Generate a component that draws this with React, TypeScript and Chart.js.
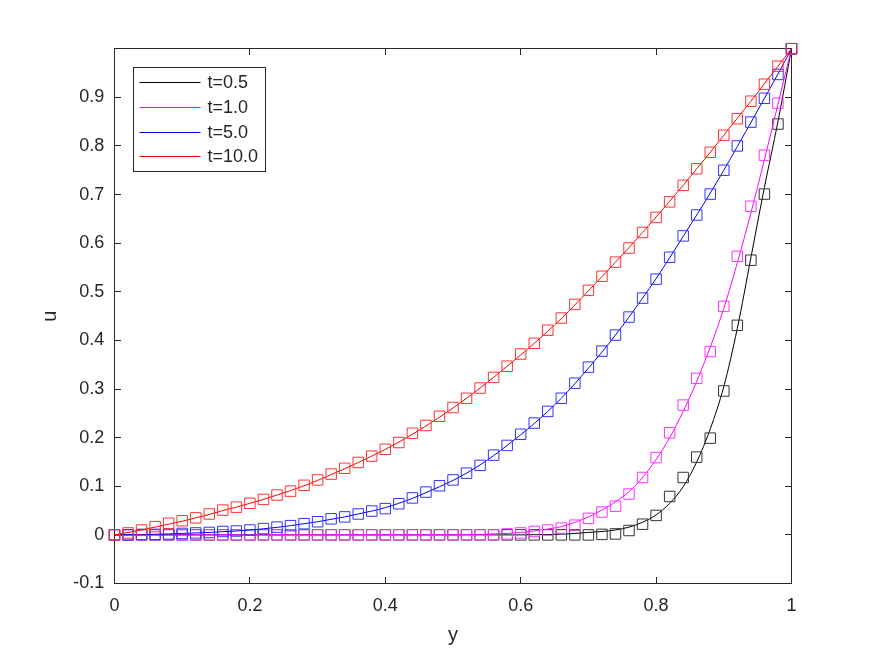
import React, { useEffect, useRef } from "react";
import { Chart, registerables } from "chart.js";

Chart.register(...registerables);

// ---- data ----
const yGrid = [0, 0.02, 0.04, 0.06, 0.08, 0.1, 0.12, 0.14, 0.16, 0.18, 0.2, 0.22, 0.24, 0.26, 0.28, 0.3, 0.32, 0.34, 0.36, 0.38, 0.4, 0.42, 0.44, 0.46, 0.48, 0.5, 0.52, 0.54, 0.56, 0.58, 0.6, 0.62, 0.64, 0.66, 0.68, 0.7, 0.72, 0.74, 0.76, 0.78, 0.8, 0.82, 0.84, 0.86, 0.88, 0.9, 0.92, 0.94, 0.96, 0.98, 1.0];

const seriesLabels = ["t=0.5", "t=1.0", "t=5.0", "t=10.0"];

// solid curves
const lineT05 = [0, 0, 0, 0, 0, 0, 0, 0, 0, 0, 0, 0, 0, 0, 0, 0, 0, 0, 0, 0, 0, 0, 0, 0, 0, 0, 0, 0, 0, 0, 0, 0.0003, 0.0007, 0.0015, 0.003, 0.005, 0.007, 0.01, 0.016, 0.026, 0.041, 0.065, 0.099, 0.15, 0.218, 0.305, 0.425, 0.57, 0.715, 0.85, 1.0];
const lineT1 = [0, 0, 0, 0, 0, 0, 0, 0, 0, 0, 0, 0, 0, 0, 0, 0, 0, 0, 0, 0, 0, 0, 0, 0, 0, 0, 0.0005, 0.001, 0.002, 0.003, 0.005, 0.008, 0.012, 0.017, 0.026, 0.037, 0.051, 0.068, 0.089, 0.118, 0.155, 0.2, 0.254, 0.316, 0.386, 0.466, 0.56, 0.662, 0.772, 0.886, 1.0];
const lineT5 = [0, 0.0003, 0.0007, 0.0012, 0.002, 0.003, 0.004, 0.005, 0.0065, 0.008, 0.01, 0.0125, 0.0155, 0.019, 0.023, 0.027, 0.032, 0.037, 0.043, 0.049, 0.056, 0.065, 0.075, 0.087, 0.099, 0.112, 0.127, 0.144, 0.163, 0.184, 0.206, 0.229, 0.254, 0.281, 0.311, 0.343, 0.376, 0.411, 0.448, 0.487, 0.527, 0.57, 0.614, 0.658, 0.703, 0.75, 0.799, 0.848, 0.898, 0.948, 1.0];
const lineT10 = [0, 0.005, 0.01, 0.016, 0.022, 0.028, 0.035, 0.042, 0.05, 0.057, 0.065, 0.073, 0.082, 0.091, 0.101, 0.112, 0.124, 0.136, 0.149, 0.162, 0.176, 0.191, 0.207, 0.224, 0.242, 0.261, 0.281, 0.302, 0.324, 0.347, 0.37, 0.394, 0.419, 0.445, 0.473, 0.502, 0.531, 0.561, 0.591, 0.622, 0.654, 0.686, 0.719, 0.753, 0.787, 0.822, 0.857, 0.892, 0.928, 0.964, 1.0];

// square markers
const markT05 = [0, 0, 0, 0, 0, 0, 0, 0, 0, 0, 0, 0, 0, 0, 0, 0, 0, 0, 0, 0, 0, 0, 0, 0, 0, 0, 0, 0, 0, 0, 0, 0, 0, 0, 0, 0, 0.001, 0.002, 0.009, 0.022, 0.04, 0.079, 0.118, 0.16, 0.199, 0.296, 0.431, 0.565, 0.701, 0.845, 1.0];
const markT1 = [0, 0, 0, 0, 0, 0, 0, 0, 0, 0, 0, 0, 0, 0, 0, 0, 0, 0, 0, 0, 0, 0, 0, 0, 0, 0, 0, 0, 0, 0.002, 0.004, 0.007, 0.01, 0.014, 0.02, 0.034, 0.047, 0.059, 0.084, 0.118, 0.159, 0.21, 0.267, 0.322, 0.377, 0.47, 0.573, 0.676, 0.781, 0.888, 1.0];
const markT5 = [0, 0, 0.001, 0.001, 0.002, 0.003, 0.004, 0.005, 0.007, 0.008, 0.01, 0.013, 0.016, 0.019, 0.023, 0.027, 0.033, 0.037, 0.043, 0.049, 0.054, 0.064, 0.076, 0.088, 0.101, 0.113, 0.127, 0.143, 0.164, 0.184, 0.207, 0.23, 0.254, 0.281, 0.312, 0.345, 0.378, 0.411, 0.448, 0.487, 0.526, 0.571, 0.615, 0.658, 0.701, 0.75, 0.8, 0.849, 0.898, 0.947, 1.0];
const markT10 = [0, 0.004, 0.01, 0.017, 0.024, 0.029, 0.035, 0.043, 0.051, 0.057, 0.065, 0.073, 0.082, 0.09, 0.102, 0.113, 0.125, 0.137, 0.149, 0.162, 0.176, 0.19, 0.209, 0.225, 0.244, 0.262, 0.281, 0.302, 0.324, 0.347, 0.372, 0.394, 0.421, 0.446, 0.474, 0.503, 0.532, 0.561, 0.59, 0.622, 0.653, 0.685, 0.719, 0.753, 0.787, 0.822, 0.856, 0.892, 0.927, 0.964, 1.0];

const xTicks = [0, 0.2, 0.4, 0.6, 0.8, 1];
const yTicks = [-0.1, 0, 0.1, 0.2, 0.3, 0.4, 0.5, 0.6, 0.7, 0.8, 0.9];

const lineColors = ["#000000", "#ff00ff", "#0000ff", "#ff0000"];
const markColors = ["#333333", "#ff33ff", "#3333ff", "#ff3333"];

const FONT = "'Liberation Sans', Arial, Helvetica, sans-serif";
const TXT = "#262626";

const fmt = (v: number) => String(Math.round(v * 10) / 10);
const toPts = (ys: number[]) => ys.map((v, i) => ({ x: yGrid[i], y: v }));

const snap = (v: number) => Math.floor(v) + 0.5;

const axesPlugin = {
  id: "matlabAxes",
  beforeDatasetsDraw(chart: any) {
    const { ctx, chartArea: ca, scales } = chart;
    const xs = scales.x;
    const ys = scales.y;
    const L = snap(ca.left), R = snap(ca.right), T = snap(ca.top), B = snap(ca.bottom);
    const tl = 6.5;
    ctx.save();
    ctx.strokeStyle = TXT;
    ctx.lineWidth = 1;
    ctx.beginPath();
    xs.ticks.forEach((t: any) => {
      const px = snap(xs.getPixelForValue(t.value));
      ctx.moveTo(px, B);
      ctx.lineTo(px, B - tl);
      ctx.moveTo(px, T);
      ctx.lineTo(px, T + tl);
    });
    ys.ticks.forEach((t: any) => {
      const py = snap(ys.getPixelForValue(t.value));
      ctx.moveTo(L, py);
      ctx.lineTo(L + tl, py);
      ctx.moveTo(R, py);
      ctx.lineTo(R - tl, py);
    });
    ctx.stroke();
    ctx.strokeRect(L, T, R - L, B - T);
    ctx.restore();
  },
};

const legendPlugin = {
  id: "matlabLegend",
  afterDatasetsDraw(chart: any) {
    const { ctx, chartArea: ca } = chart;
    const bx = snap(ca.left + 18.8);
    const by = snap(ca.top + 18.3);
    const bw = 132;
    const bh = 104;
    ctx.save();
    ctx.fillStyle = "#ffffff";
    ctx.fillRect(bx, by, bw, bh);
    ctx.strokeStyle = TXT;
    ctx.lineWidth = 1;
    ctx.strokeRect(bx, by, bw, bh);
    ctx.font = `18px ${FONT}`;
    ctx.textBaseline = "middle";
    ctx.textAlign = "left";
    const lines = chart.data.datasets.filter((d: any) => d.isLegend);
    lines.sort((a: any, b: any) => a.legendIndex - b.legendIndex);
    lines.forEach((d: any, i: number) => {
      const ry = by + 15.3 + i * 24.67;
      ctx.strokeStyle = d.borderColor;
      ctx.beginPath();
      ctx.moveTo(bx + 6, snap(ry));
      ctx.lineTo(bx + 67, snap(ry));
      ctx.stroke();
      ctx.fillStyle = TXT;
      ctx.fillText(d.label, bx + 74, ry + 0.5);
    });
    ctx.restore();
  },
};

export default function App() {
  const ref = useRef<HTMLCanvasElement | null>(null);

  useEffect(() => {
    if (!ref.current) return;
    const lineData = [lineT05, lineT1, lineT5, lineT10];
    const markData = [markT05, markT1, markT5, markT10];
    const datasets: any[] = [];
    for (let i = 0; i < 4; i++) {
      datasets.push({
        label: seriesLabels[i],
        data: toPts(lineData[i]),
        borderColor: lineColors[i],
        backgroundColor: lineColors[i],
        borderWidth: 1,
        pointRadius: 0,
        fill: false,
        cubicInterpolationMode: "monotone",
        clip: false,
        order: 7 - 2 * i,
        isLegend: true,
        legendIndex: i,
      });
      datasets.push({
        label: seriesLabels[i] + " (markers)",
        data: toPts(markData[i]),
        showLine: false,
        borderColor: markColors[i],
        backgroundColor: "rgba(0,0,0,0)",
        pointStyle: "rect",
        pointRadius: 7.4,
        pointBorderWidth: 1,
        pointBorderColor: markColors[i],
        pointBackgroundColor: "rgba(0,0,0,0)",
        clip: false,
        order: 6 - 2 * i,
      });
    }

    const chart = new Chart(ref.current, {
      type: "line",
      data: { datasets },
      plugins: [axesPlugin, legendPlugin],
      options: {
        animation: false,
        responsive: false,
        devicePixelRatio: 1,
        events: [],
        layout: { padding: { left: 0, right: 83.5, top: 48.7, bottom: 0 } },
        plugins: { legend: { display: false }, tooltip: { enabled: false } },
        scales: {
          x: {
            type: "linear",
            min: 0,
            max: 1,
            afterBuildTicks: (s: any) => {
              s.ticks = xTicks.map((v) => ({ value: v }));
            },
            afterFit: (s: any) => {
              s.height = 72.5;
            },
            grid: { display: false, drawTicks: false },
            border: { display: false },
            ticks: {
              padding: 11.7,
              color: TXT,
              font: { family: FONT, size: 18 },
              maxRotation: 0,
              autoSkip: false,
              callback: (v: any) => fmt(Number(v)),
            },
            title: {
              display: true,
              text: "y",
              color: TXT,
              font: { family: FONT, size: 20 },
              padding: { top: 0, bottom: 9 },
            },
          },
          y: {
            type: "linear",
            min: -0.1,
            max: 1.0,
            afterBuildTicks: (s: any) => {
              s.ticks = yTicks.map((v) => ({ value: v }));
            },
            afterFit: (s: any) => {
              s.width = 114.5;
            },
            grid: { display: false, drawTicks: false },
            border: { display: false },
            ticks: {
              padding: 10.2,
              color: TXT,
              font: { family: FONT, size: 18 },
              autoSkip: false,
              callback: (v: any) => fmt(Number(v)),
            },
            title: {
              display: true,
              text: "u",
              color: TXT,
              font: { family: FONT, size: 20 },
              padding: { top: 38, bottom: 0 },
            },
          },
        },
      } as any,
    });
    return () => chart.destroy();
  }, []);

  return (
    <div style={{ position: "absolute", left: 0, top: 0, width: 875, height: 656, background: "#ffffff" }}>
      <canvas ref={ref} width={875} height={656} style={{ width: 875, height: 656, display: "block" }} />
    </div>
  );
}
